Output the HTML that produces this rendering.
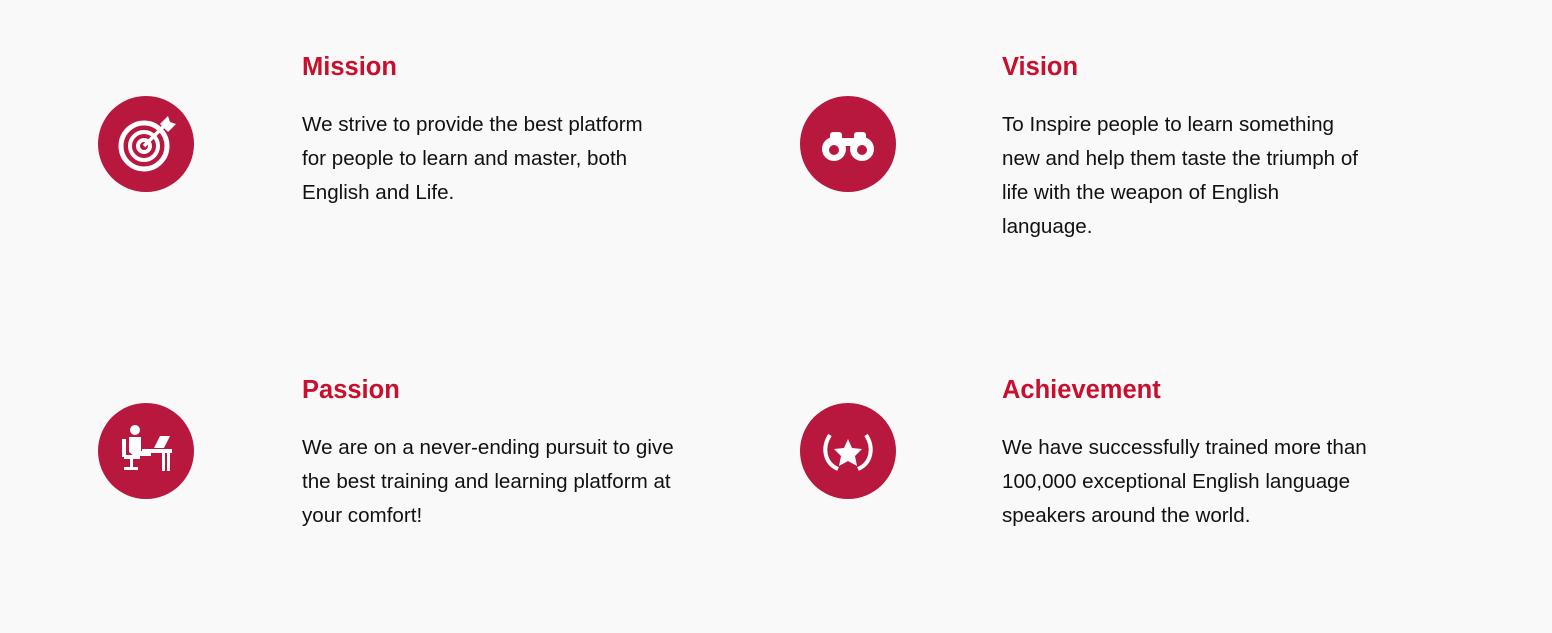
<!DOCTYPE html>
<html><head><meta charset="utf-8"><style>
body{margin:0;width:1552px;height:633px;background:#f9f9f9;font-family:"Liberation Sans",sans-serif;position:relative;overflow:hidden}
.ic{position:absolute;width:96px;height:96px;border-radius:50%;background:#b8173e}
.ic svg{position:absolute;left:0;top:0}
h2{position:absolute;margin:0;font-size:25.5px;font-weight:bold;color:#c8102e;line-height:30px}
p{position:absolute;margin:0;font-size:20.6px;line-height:34px;color:#111;white-space:nowrap}
</style></head><body>
<div class="ic" style="left:98px;top:96px">
<svg width="96" height="96" viewBox="0 0 96 96"><g fill="none" stroke="#fff"><circle cx="46" cy="50" r="23" stroke-width="5"/><circle cx="46" cy="50" r="14" stroke-width="4"/><circle cx="46" cy="50" r="6" stroke-width="4"/><line x1="46" y1="50" x2="66" y2="30" stroke-width="3.5"/></g><path d="M62 28 l8-8 l2 6 l6 2 l-8 8z" fill="#fff"/></svg></div>
<h2 style="left:302px;top:52px">Mission</h2>
<p style="left:302px;top:108px">We strive to provide the best platform<br>for people to learn and master, both<br>English and Life.</p>

<div class="ic" style="left:800px;top:96px">
<svg width="96" height="96" viewBox="0 0 96 96"><g fill="#fff"><rect x="30" y="36" width="12" height="10" rx="3"/><rect x="54" y="36" width="12" height="10" rx="3"/><rect x="42" y="42" width="12" height="8"/><circle cx="34" cy="53" r="12"/><circle cx="62" cy="53" r="12"/></g><circle cx="34" cy="54" r="5" fill="#b8173e"/><circle cx="62" cy="54" r="5" fill="#b8173e"/></svg></div>
<h2 style="left:1002px;top:52px">Vision</h2>
<p style="left:1002px;top:108px">To Inspire people to learn something<br>new and help them taste the triumph of<br>life with the weapon of English<br>language.</p>

<div class="ic" style="left:98px;top:403px">
<svg width="96" height="96" viewBox="0 0 96 96"><g fill="#fff"><circle cx="37" cy="27" r="5"/><path d="M31 34h12v14h10v5H36l-5-4z"/><rect x="26" y="52" width="16" height="4"/><rect x="32" y="56" width="3" height="10"/><rect x="26" y="64" width="14" height="3"/><rect x="44" y="46" width="30" height="4"/><rect x="64" y="50" width="3" height="18"/><rect x="69" y="50" width="3" height="18"/><path d="M56 45l6-12h10l-6 12z"/><rect x="24" y="36" width="4" height="18"/></g></svg></div>
<h2 style="left:302px;top:375px">Passion</h2>
<p style="left:302px;top:431px">We are on a never-ending pursuit to give<br>the best training and learning platform at<br>your comfort!</p>

<div class="ic" style="left:800px;top:403px">
<svg width="96" height="96" viewBox="0 0 96 96"><path d="M48 36l4 9 10 1-7 7 2 10-9-5-9 5 2-10-7-7 10-1z" fill="#fff"/><g fill="none" stroke="#fff" stroke-width="4"><path d="M30 32c-8 12-6 28 8 34"/><path d="M66 32c8 12 6 28-8 34"/></g></svg></div>
<h2 style="left:1002px;top:375px">Achievement</h2>
<p style="left:1002px;top:431px">We have successfully trained more than<br>100,000 exceptional English language<br>speakers around the world.</p>
</body></html>
